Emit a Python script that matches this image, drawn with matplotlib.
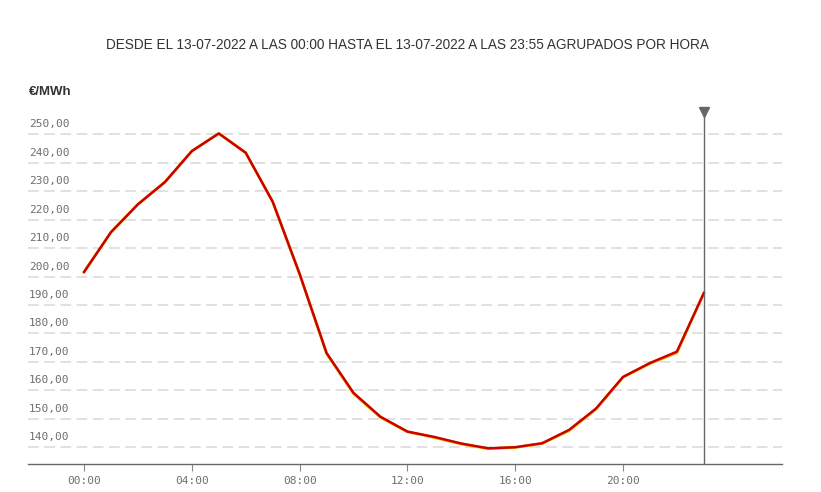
import matplotlib
matplotlib.use("Agg")
import matplotlib.pyplot as plt
import matplotlib.transforms as mtransforms

# hourly price data, 13-07-2022
hours = list(range(24))
precio = [201.6, 215.6, 225.4, 233.2, 244.1, 250.3, 243.5, 226.3,
          200.9, 173.1, 159.1, 150.7, 145.5, 143.6, 141.3, 139.6,
          140.0, 141.4, 146.1, 153.6, 164.7, 169.6, 173.6, 194.2]
precio_2 = [201.6, 215.6, 225.4, 233.2, 244.1, 250.3, 243.5, 226.3,
            200.9, 172.9, 158.8, 150.5, 145.4, 143.4, 141.1, 139.5,
            139.9, 141.3, 145.8, 153.4, 164.6, 169.4, 173.2, 194.2]
y_ticks = [140, 150, 160, 170, 180, 190, 200, 210, 220, 230, 240, 250]
x_ticks = [0, 4, 8, 12, 16, 20]
x_labels = ["00:00", "04:00", "08:00", "12:00", "16:00", "20:00"]
marker_hour = 23

fig = plt.figure(figsize=(8.21, 4.92), dpi=100)
ax = fig.add_axes([28 / 821, 1 - 464 / 492, (782 - 28) / 821, (464 - 100) / 492])

ax.set_xlim(-2.08, 25.9)
ax.set_ylim(134.1, 262.06)

# dashed grid lines
for v in y_ticks:
    ax.axhline(v, color="#d9d9d9", lw=1.1, dashes=(7, 3.6), zorder=1)

# tick labels above the grid lines
lab_tr = mtransforms.offset_copy(ax.get_yaxis_transform(), fig=fig, x=1, y=10, units="dots")
for v in y_ticks:
    ax.text(0, v, f"{v},00", transform=lab_tr, ha="left", va="center",
            family="DejaVu Sans Mono", fontsize=8, color="#6e6e6e")

ax.plot(hours, precio_2, color="#e6c200", lw=2.0, zorder=3)
ax.plot(hours, precio, color="#cc0000", lw=1.8, zorder=4)

# vertical cursor line
ax.axvline(marker_hour, ymax=(257 - 134.1) / (262.06 - 134.1), color="#666666", lw=1, zorder=5)
ax.plot([marker_hour], [258.0], marker="v", color="#666666", ms=7.5, zorder=6, clip_on=False)

for s in ["top", "right", "left"]:
    ax.spines[s].set_visible(False)
ax.spines["bottom"].set_color("#666666")
ax.spines["bottom"].set_linewidth(1)

ax.set_yticks([])
ax.set_xticks(x_ticks)
ax.set_xticklabels(x_labels, family="DejaVu Sans Mono", fontsize=8, color="#6e6e6e")
ax.tick_params(axis="x", length=5, color="#888888", pad=4)

fig.text(29 / 821, 1 - 92 / 492, "€/MWh", ha="left", va="center",
         family="Liberation Sans", fontsize=9.5, fontweight="bold", color="#333333")
fig.text(407 / 821, 1 - 45 / 492,
         "DESDE EL 13-07-2022 A LAS 00:00 HASTA EL 13-07-2022 A LAS 23:55 AGRUPADOS POR HORA",
         ha="center", va="center", family="Liberation Sans", fontsize=9.8, color="#333333")

fig.savefig("out.png", dpi=100)
